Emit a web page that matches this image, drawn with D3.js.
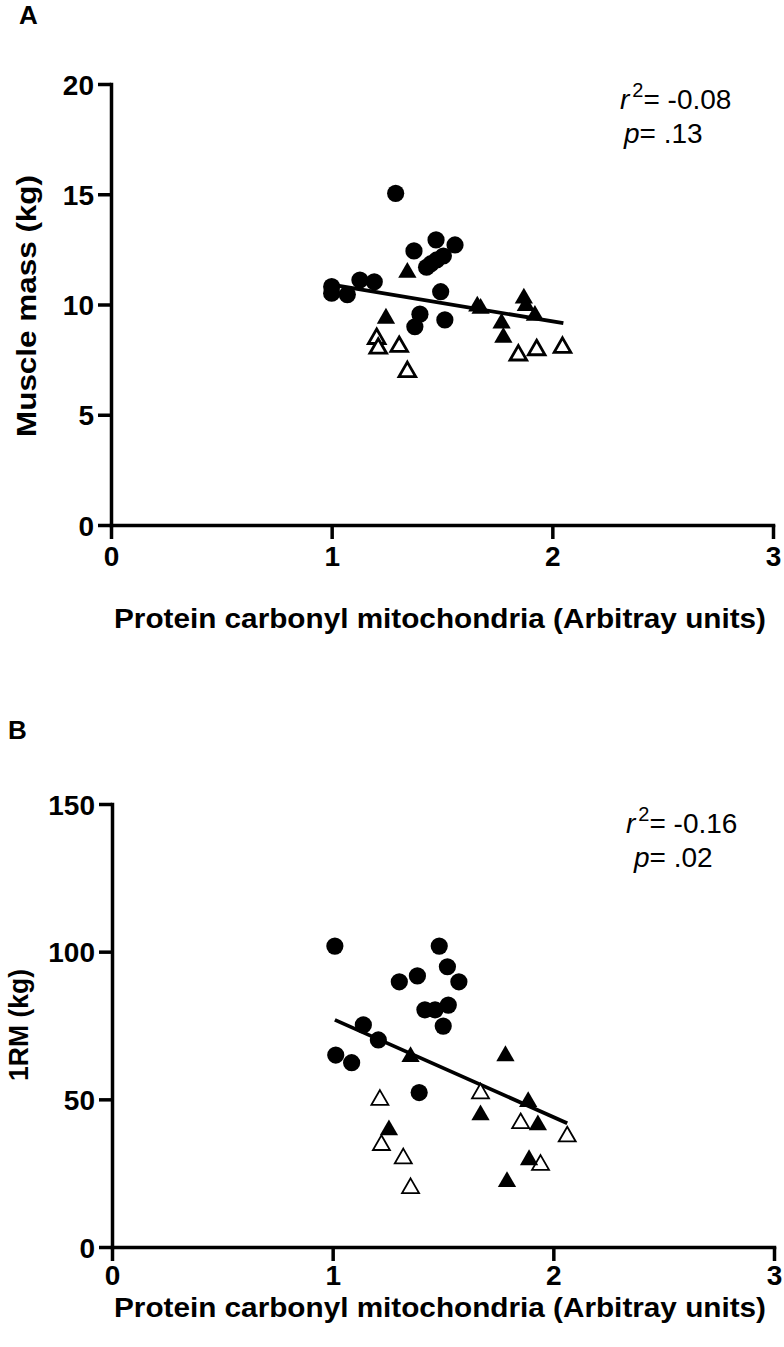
<!DOCTYPE html>
<html>
<head>
<meta charset="utf-8">
<script src="https://cdn.jsdelivr.net/npm/d3@7"></script>
<style>
  html, body { margin: 0; padding: 0; background: #fff; }
  svg { display: block; }
  text { font-family: "Liberation Sans", Arial, sans-serif; }
</style>
</head>
<body>
<svg id="chart" width="784" height="1347"></svg>
<script>
// ---------- Data ----------
const xTicks = [0, 1, 2, 3];
const xTitle = "Protein carbonyl mitochondria (Arbitray units)";

// Panel A: Muscle mass (kg)
const aTicksY = [0, 5, 10, 15, 20];
const aCircles = [
  [1.29, 15.04], [1.473, 12.93], [1.559, 12.7], [1.373, 12.43], [1.506, 12.2],
  [1.476, 12.02], [1.43, 11.69], [1.45, 11.85], [1.0, 10.81], [1.0, 10.51],
  [1.071, 10.45], [1.128, 11.11], [1.193, 11.03], [1.494, 10.58], [1.40, 9.56],
  [1.377, 8.99], [1.513, 9.3]
];
const aFilledTri = [
  [1.343, 11.45], [1.246, 9.37], [1.66, 9.92], [1.675, 9.82], [1.871, 10.28],
  [1.88, 9.95], [1.921, 9.5], [1.77, 9.15], [1.778, 8.5]
];
const aOpenTri = [
  [1.204, 8.45], [1.211, 8.01], [1.306, 8.09], [1.343, 6.95],
  [1.846, 7.7], [1.929, 7.94], [2.046, 8.05]
];
const aFitX = [1.0, 2.05];
const aFitY = [10.9, 9.15];
const aStats = { r2: "-0.08", p: ".13" };

// Panel B: 1RM (kg)
const bTicksY = [0, 50, 100, 150];
const bCircles = [
  [1.01, 101.9], [1.483, 101.9], [1.52, 94.9], [1.572, 89.8], [1.302, 89.8],
  [1.384, 91.8], [1.524, 81.9], [1.418, 80.3], [1.464, 80.3], [1.501, 74.8],
  [1.139, 75.2], [1.207, 70.1], [1.014, 65.0], [1.086, 62.4], [1.392, 52.3]
];
const bFilledTri = [
  [1.353, 64.4], [1.783, 64.7], [1.886, 49.2], [1.67, 44.7], [1.93, 41.3],
  [1.255, 39.6], [1.89, 29.5], [1.79, 22.1]
];
const bOpenTri = [
  [1.214, 49.8], [1.67, 52.0], [1.852, 41.9], [2.063, 37.4], [1.221, 34.5],
  [1.32, 30.0], [1.942, 27.8], [1.353, 19.9]
];
const bFitX = [1.01, 2.063];
const bFitY = [76.9, 41.9];
const bStats = { r2: "-0.16", p: ".02" };

// ---------- Drawing ----------
const svg = d3.select("#chart");

function drawPanel(cfg) {
  const g = svg.append("g");
  const x = d3.scaleLinear().domain([0, 3]).range([cfg.x0, cfg.x1]);
  const y = d3.scaleLinear().domain([0, cfg.yMax]).range([cfg.yBottom, cfg.yTop]);

  // panel letter
  g.append("text").attr("x", cfg.letterX).attr("y", cfg.letterY)
    .attr("font-size", 26).attr("font-weight", "bold").text(cfg.letter);

  // axes
  const xAxis = d3.axisBottom(x).tickValues(xTicks).tickFormat(d3.format("d"))
    .tickSize(14).tickSizeOuter(0).tickPadding(cfg.xTickPad);
  const yAxis = d3.axisLeft(y).tickValues(cfg.yTicks).tickFormat(d3.format("d"))
    .tickSize(13).tickSizeOuter(0).tickPadding(4);

  const gx = g.append("g").attr("transform", `translate(0,${cfg.yBottom})`).call(xAxis);
  const gy = g.append("g").attr("transform", `translate(${cfg.x0},0)`).call(yAxis);
  [gx, gy].forEach(a => {
    a.selectAll("path.domain").attr("stroke", "#000").attr("stroke-width", 3.5)
      .attr("stroke-linecap", "square");
    a.selectAll(".tick line").attr("stroke", "#000").attr("stroke-width", 3.5);
    a.selectAll(".tick text").attr("fill", "#000").attr("font-size", 28)
      .attr("font-weight", "bold").attr("font-family", "Liberation Sans, Arial, sans-serif");
  });
  gx.selectAll(".tick text").attr("dy", "0.78em");
  gy.selectAll(".tick text").attr("dy", "0.36em");

  // axis titles
  g.append("text").attr("x", cfg.xTitleX).attr("y", cfg.xTitleY)
    .attr("text-anchor", "middle").attr("font-size", 27).attr("font-weight", "bold")
    .attr("textLength", cfg.xTitleLen).attr("lengthAdjust", "spacingAndGlyphs")
    .text(xTitle);
  g.append("text")
    .attr("transform", `translate(${cfg.yTitleX},${cfg.yTitleY}) rotate(-90)`)
    .attr("text-anchor", "middle").attr("font-size", 27).attr("font-weight", "bold")
    .attr("textLength", cfg.yTitleLen).attr("lengthAdjust", "spacingAndGlyphs")
    .text(cfg.yTitle);

  // regression line
  const fit = cfg.fitX.map((v, i) => [v, cfg.fitY[i]]);
  g.append("path").datum(fit)
    .attr("d", d3.line().x(d => x(d[0])).y(d => y(d[1])))
    .attr("stroke", "#000").attr("stroke-width", 3.8).attr("fill", "none");

  // points
  const tri = d3.symbol().type(d3.symbolTriangle);
  g.selectAll("path.otri").data(cfg.openTri).join("path").attr("class", "otri")
    .attr("d", tri.size(cfg.openSize)())
    .attr("transform", d => `translate(${x(d[0])},${y(d[1])})`)
    .attr("fill", "#fff").attr("stroke", "#000").attr("stroke-width", cfg.openStroke)
    .attr("stroke-linejoin", "miter");
  g.selectAll("path.ftri").data(cfg.filledTri).join("path").attr("class", "ftri")
    .attr("d", tri.size(145)())
    .attr("transform", d => `translate(${x(d[0])},${y(d[1])})`)
    .attr("fill", "#000");
  g.selectAll("circle").data(cfg.circles).join("circle")
    .attr("cx", d => x(d[0])).attr("cy", d => y(d[1])).attr("r", 8.6)
    .attr("fill", "#000");

  // stats text
  const s1 = g.append("text").attr("x", cfg.statX).attr("y", cfg.statY)
    .attr("font-size", 28);
  s1.append("tspan").attr("font-style", "italic").text("r");
  s1.append("tspan").attr("font-size", 20).attr("dy", -12).attr("dx", 3).text("2");
  s1.append("tspan").attr("dy", 12).text("= " + cfg.stats.r2);
  const s2 = g.append("text").attr("x", cfg.statX2).attr("y", cfg.statY + 34)
    .attr("font-size", 28);
  s2.append("tspan").attr("font-style", "italic").text("p");
  s2.append("tspan").text("= " + cfg.stats.p);
}

drawPanel({
  letter: "A", letterX: 19, letterY: 24,
  x0: 111, x1: 773, yTop: 84, yBottom: 525, yMax: 20, yTicks: aTicksY, xTickPad: 5,
  xTitleX: 440, xTitleY: 628, xTitleLen: 652,
  yTitleX: 36, yTitleY: 306, yTitleLen: 262, yTitle: "Muscle mass (kg)",
  circles: aCircles, filledTri: aFilledTri, openTri: aOpenTri,
  openSize: 120, openStroke: 2.8,
  fitX: aFitX, fitY: aFitY, stats: aStats,
  statX: 620, statY: 109, statX2: 624
});

drawPanel({
  letter: "B", letterX: 8, letterY: 739,
  x0: 112, x1: 774, yTop: 804, yBottom: 1247, yMax: 150, yTicks: bTicksY, xTickPad: 2,
  xTitleX: 440, xTitleY: 1317, xTitleLen: 652,
  yTitleX: 28, yTitleY: 1025, yTitleLen: 112, yTitle: "1RM (kg)",
  circles: bCircles, filledTri: bFilledTri, openTri: bOpenTri,
  openSize: 125, openStroke: 1.8,
  fitX: bFitX, fitY: bFitY, stats: bStats,
  statX: 626, statY: 833, statX2: 634
});
</script>
</body>
</html>
